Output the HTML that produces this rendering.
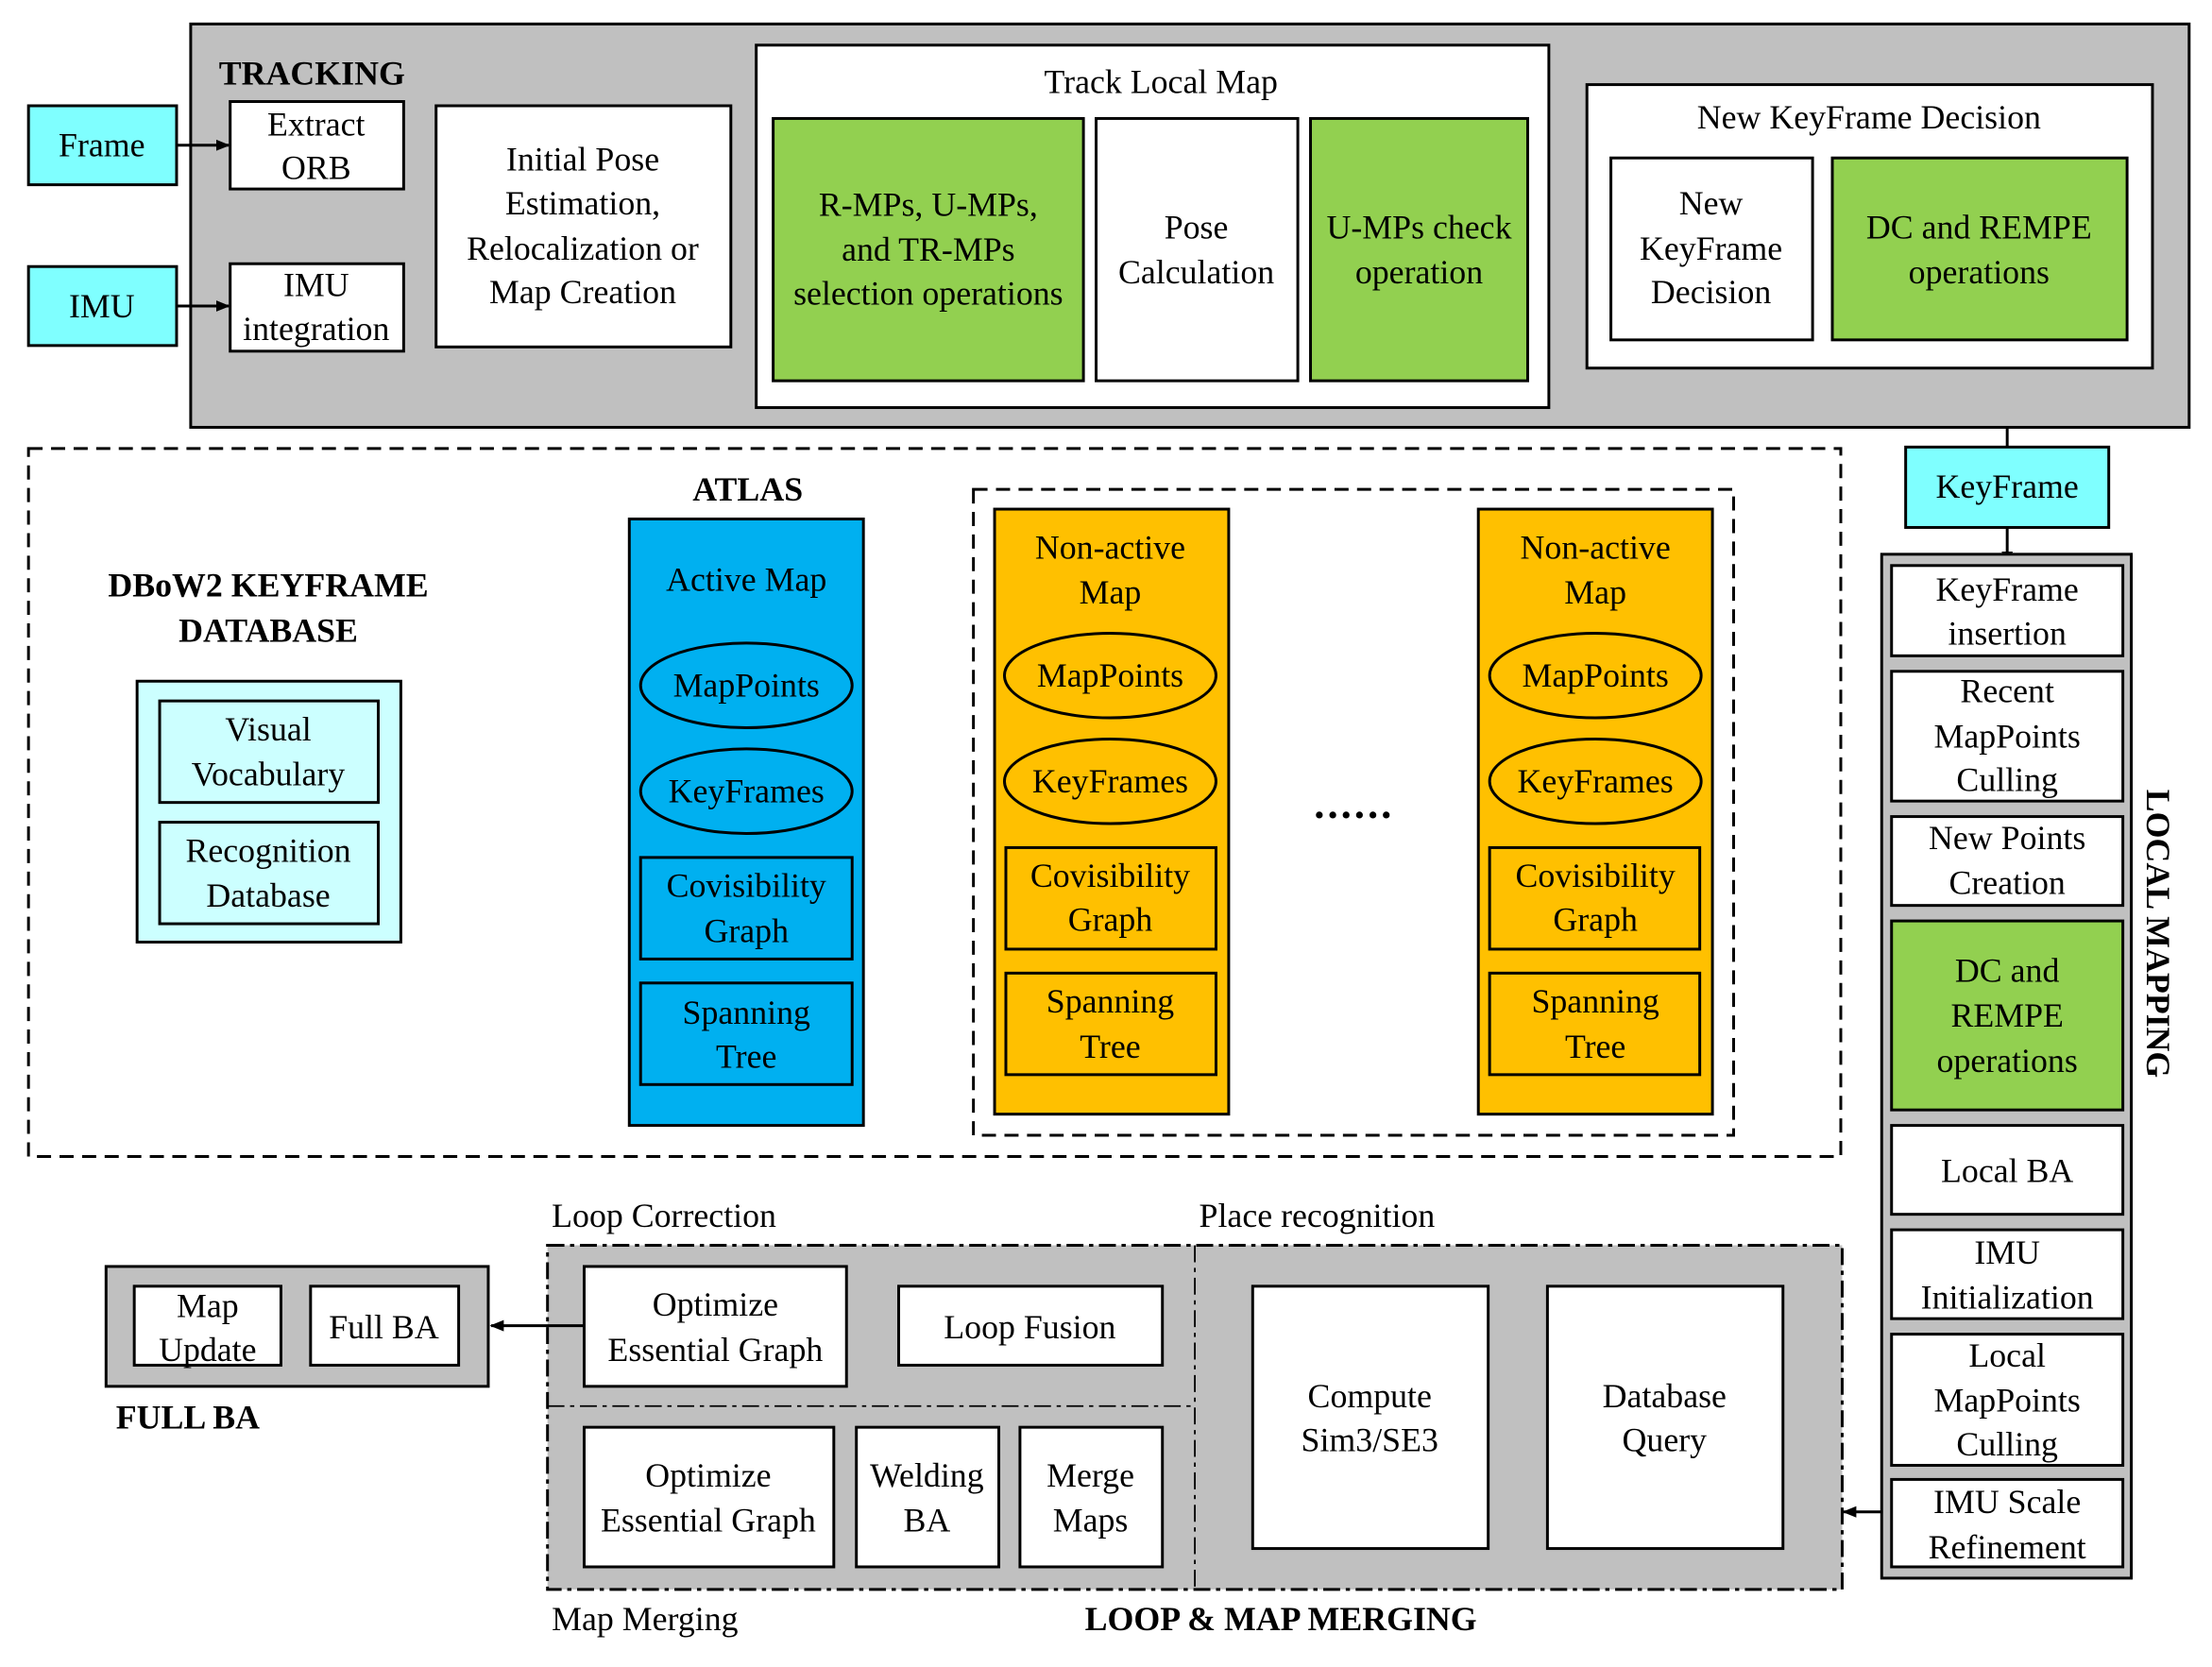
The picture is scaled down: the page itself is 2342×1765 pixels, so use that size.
<!DOCTYPE html>
<html><head><meta charset="utf-8"><style>
html,body{margin:0;padding:0;background:#fff;}
svg{display:block;}
text{font-family:"Liberation Serif",serif;font-size:24px;fill:#000;}
.b{font-weight:bold;}
</style></head><body>
<svg width="2342" height="1765" viewBox="0 0 1568 1182" xmlns="http://www.w3.org/2000/svg">
<defs><marker id="ar" markerWidth="10" markerHeight="10" refX="9" refY="5" orient="auto" markerUnits="userSpaceOnUse"><path d="M0,1 L10,5 L0,9 Z" fill="#000"/></marker></defs>
<g stroke="#000" stroke-width="2">
<!-- Tracking -->
<rect x="135" y="17" width="1417" height="286" fill="#c0c0c0"/>
<rect x="20" y="75" width="105" height="56" fill="#7fffff"/>
<rect x="20" y="189" width="105" height="56" fill="#7fffff"/>
<rect x="163" y="72" width="123" height="62" fill="#fff"/>
<rect x="163" y="187" width="123" height="62" fill="#fff"/>
<rect x="309" y="75" width="209" height="171" fill="#fff"/>
<rect x="536" y="32" width="562" height="257" fill="#fff"/>
<rect x="548" y="84" width="220" height="186" fill="#92d050"/>
<rect x="777" y="84" width="143" height="186" fill="#fff"/>
<rect x="929" y="84" width="154" height="186" fill="#92d050"/>
<rect x="1125" y="60" width="401" height="201" fill="#fff"/>
<rect x="1142" y="112" width="143" height="129" fill="#fff"/>
<rect x="1299" y="112" width="209" height="129" fill="#92d050"/>
<line x1="125" y1="103" x2="162" y2="103" marker-end="url(#ar)"/>
<line x1="125" y1="217" x2="162" y2="217" marker-end="url(#ar)"/>
<line x1="1423" y1="303" x2="1423" y2="317"/>
<rect x="1351" y="317" width="144" height="57" fill="#7fffff"/>
<line x1="1423" y1="374" x2="1423" y2="400" marker-end="url(#ar)"/>
<!-- Local mapping -->
<rect x="1334" y="393" width="177" height="726" fill="#c0c0c0"/>
<rect x="1341" y="401" width="164" height="64" fill="#fff"/>
<rect x="1341" y="476" width="164" height="92" fill="#fff"/>
<rect x="1341" y="579" width="164" height="63" fill="#fff"/>
<rect x="1341" y="653" width="164" height="134" fill="#92d050"/>
<rect x="1341" y="798" width="164" height="63" fill="#fff"/>
<rect x="1341" y="872" width="164" height="63" fill="#fff"/>
<rect x="1341" y="946" width="164" height="93" fill="#fff"/>
<rect x="1341" y="1049" width="164" height="62" fill="#fff"/>
<line x1="1334" y1="1072" x2="1307" y2="1072" marker-end="url(#ar)"/>
<!-- Atlas -->
<rect x="20" y="318" width="1285" height="502" fill="none" stroke-dasharray="10,6"/>
<rect x="97" y="483" width="187" height="185" fill="#ccffff"/>
<rect x="113" y="497" width="155" height="72" fill="#ccffff"/>
<rect x="113" y="583" width="155" height="72" fill="#ccffff"/>
<rect x="446" y="368" width="166" height="430" fill="#00b0f0"/>
<ellipse cx="529" cy="486" rx="75" ry="30" fill="#00b0f0"/>
<ellipse cx="529" cy="561" rx="75" ry="30" fill="#00b0f0"/>
<rect x="454" y="608" width="150" height="72" fill="#00b0f0"/>
<rect x="454" y="697" width="150" height="72" fill="#00b0f0"/>
<rect x="690" y="347" width="539" height="458" fill="none" stroke-dasharray="10,6"/>
<rect x="705" y="361" width="166" height="429" fill="#ffc000"/>
<ellipse cx="787" cy="479" rx="75" ry="30" fill="#ffc000"/>
<ellipse cx="787" cy="554" rx="75" ry="30" fill="#ffc000"/>
<rect x="713" y="601" width="149" height="72" fill="#ffc000"/>
<rect x="713" y="690" width="149" height="72" fill="#ffc000"/>
<rect x="1048" y="361" width="166" height="429" fill="#ffc000"/>
<ellipse cx="1131" cy="479" rx="75" ry="30" fill="#ffc000"/>
<ellipse cx="1131" cy="554" rx="75" ry="30" fill="#ffc000"/>
<rect x="1056" y="601" width="149" height="72" fill="#ffc000"/>
<rect x="1056" y="690" width="149" height="72" fill="#ffc000"/>
<!-- Loop -->
<rect x="388" y="883" width="918" height="244" fill="#c0c0c0" stroke-dasharray="12,4,3,4"/>
<line x1="847" y1="883" x2="847" y2="1127" stroke-width="1.2" stroke-dasharray="12,4,3,4"/>
<line x1="388" y1="997" x2="847" y2="997" stroke-width="1.2" stroke-dasharray="12,4,3,4"/>
<rect x="414" y="898" width="186" height="85" fill="#fff"/>
<rect x="637" y="912" width="187" height="56" fill="#fff"/>
<rect x="414" y="1012" width="177" height="99" fill="#fff"/>
<rect x="607" y="1012" width="101" height="99" fill="#fff"/>
<rect x="723" y="1012" width="101" height="99" fill="#fff"/>
<rect x="888" y="912" width="167" height="186" fill="#fff"/>
<rect x="1097" y="912" width="167" height="186" fill="#fff"/>
<rect x="75" y="898" width="271" height="85" fill="#c0c0c0"/>
<rect x="95" y="912" width="104" height="56" fill="#fff"/>
<rect x="220" y="912" width="105" height="56" fill="#fff"/>
<line x1="414" y1="940" x2="348" y2="940" marker-end="url(#ar)"/>
</g>
<g text-anchor="middle">
<text x="72" y="111">Frame</text>
<text x="72" y="225">IMU</text>
<text x="224" y="96">Extract</text><text x="224" y="127">ORB</text>
<text x="224" y="210">IMU</text><text x="224" y="241">integration</text>
<text x="413" y="121">Initial Pose</text><text x="413" y="152">Estimation,</text><text x="413" y="184">Relocalization or</text><text x="413" y="215">Map Creation</text>
<text x="823" y="66">Track Local Map</text>
<text x="658" y="153">R-MPs, U-MPs,</text><text x="658" y="185">and TR-MPs</text><text x="658" y="216">selection operations</text>
<text x="848" y="169">Pose</text><text x="848" y="201">Calculation</text>
<text x="1006" y="169">U-MPs check</text><text x="1006" y="201">operation</text>
<text x="1325" y="91">New KeyFrame Decision</text>
<text x="1213" y="152">New</text><text x="1213" y="184">KeyFrame</text><text x="1213" y="215">Decision</text>
<text x="1403" y="169">DC and  REMPE</text><text x="1403" y="201">operations</text>
<text x="1423" y="353">KeyFrame</text>
<text x="1423" y="426">KeyFrame</text><text x="1423" y="457">insertion</text>
<text x="1423" y="498">Recent</text><text x="1423" y="530">MapPoints</text><text x="1423" y="561">Culling</text>
<text x="1423" y="602">New Points</text><text x="1423" y="634">Creation</text>
<text x="1423" y="696">DC and</text><text x="1423" y="728">REMPE</text><text x="1423" y="760">operations</text>
<text x="1423" y="838">Local BA</text>
<text x="1423" y="896">IMU</text><text x="1423" y="928">Initialization</text>
<text x="1423" y="969">Local</text><text x="1423" y="1001">MapPoints</text><text x="1423" y="1032">Culling</text>
<text x="1423" y="1073">IMU Scale</text><text x="1423" y="1105">Refinement</text>
<text class="b" x="530" y="355">ATLAS</text>
<text class="b" x="190" y="423">DBoW2 KEYFRAME</text><text class="b" x="190" y="455">DATABASE</text>
<text x="190" y="525">Visual</text><text x="190" y="557">Vocabulary</text>
<text x="190" y="611">Recognition</text><text x="190" y="643">Database</text>
<text x="529" y="419">Active Map</text>
<text x="529" y="494">MapPoints</text><text x="529" y="569">KeyFrames</text>
<text x="529" y="636">Covisibility</text><text x="529" y="668">Graph</text>
<text x="529" y="726">Spanning</text><text x="529" y="757">Tree</text>
<text x="787" y="396">Non-active</text><text x="787" y="428">Map</text>
<text x="787" y="487">MapPoints</text><text x="787" y="562">KeyFrames</text>
<text x="787" y="629">Covisibility</text><text x="787" y="660">Graph</text>
<text x="787" y="718">Spanning</text><text x="787" y="750">Tree</text>
<text x="1131" y="396">Non-active</text><text x="1131" y="428">Map</text>
<text x="1131" y="487">MapPoints</text><text x="1131" y="562">KeyFrames</text>
<text x="1131" y="629">Covisibility</text><text x="1131" y="660">Graph</text>
<text x="1131" y="718">Spanning</text><text x="1131" y="750">Tree</text>
<text class="b" x="960" y="580" style="font-size:30px;letter-spacing:2px">......</text>
<text x="507" y="933">Optimize</text><text x="507" y="965">Essential Graph</text>
<text x="730" y="949">Loop Fusion</text>
<text x="502" y="1054">Optimize</text><text x="502" y="1086">Essential Graph</text>
<text x="657" y="1054">Welding</text><text x="657" y="1086">BA</text>
<text x="773" y="1054">Merge</text><text x="773" y="1086">Maps</text>
<text x="971" y="998">Compute</text><text x="971" y="1029">Sim3/SE3</text>
<text x="1180" y="998">Database</text><text x="1180" y="1029">Query</text>
<text x="147" y="934">Map</text><text x="147" y="965">Update</text>
<text x="272" y="949">Full BA</text>
<text class="b" x="908" y="1156">LOOP &amp; MAP MERGING</text>
</g>
<text class="b" x="155" y="60">TRACKING</text>
<text class="b" x="82" y="1013">FULL BA</text>
<text x="391" y="870">Loop Correction</text>
<text x="850" y="870">Place recognition</text>
<text x="391" y="1156">Map Merging</text>
<text class="b" transform="translate(1522,662) rotate(90)" text-anchor="middle">LOCAL MAPPING</text>
</svg>
</body></html>
